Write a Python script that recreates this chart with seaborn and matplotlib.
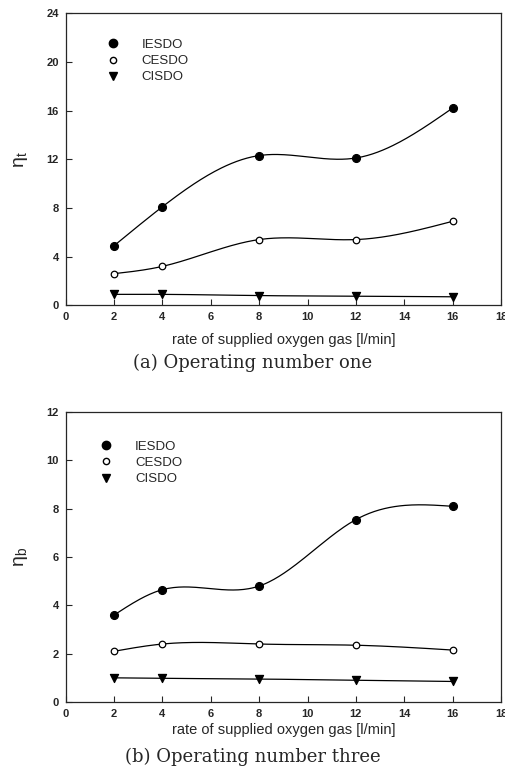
import numpy as np
import pandas as pd
import matplotlib
matplotlib.use("Agg")
import matplotlib.pyplot as plt
import seaborn as sns
from matplotlib.lines import Line2D

# rate of supplied oxygen gas [l/min]
rates = [2, 4, 8, 12, 16]

# (a) operating number one
one_iesdo = [4.9, 8.1, 12.3, 12.1, 16.2]
one_cesdo = [2.6, 3.2, 5.4, 5.4, 6.9]
one_cisdo = [0.9, 0.9, 0.8, 0.75, 0.7]

# (b) operating number three
three_iesdo = [3.6, 4.65, 4.8, 7.55, 8.1]
three_cesdo = [2.1, 2.4, 2.4, 2.35, 2.15]
three_cisdo = [1.0, 0.98, 0.95, 0.9, 0.85]

series_names = ["IESDO", "CESDO", "CISDO"]
x_ticks = list(range(0, 20, 2))


def natural_spline(x, y, n=200):
    """Curva suave (spline cúbica natural) só para desenhar a linha entre os pontos."""
    x = np.asarray(x, float)
    y = np.asarray(y, float)
    k = len(x)
    h = np.diff(x)
    A = np.zeros((k, k))
    b = np.zeros(k)
    A[0, 0] = A[-1, -1] = 1
    for i in range(1, k - 1):
        A[i, i - 1] = h[i - 1]
        A[i, i] = 2 * (h[i - 1] + h[i])
        A[i, i + 1] = h[i]
        b[i] = 6 * ((y[i + 1] - y[i]) / h[i] - (y[i] - y[i - 1]) / h[i - 1])
    M = np.linalg.solve(A, b)
    xs = np.linspace(x[0], x[-1], n)
    idx = np.clip(np.searchsorted(x, xs) - 1, 0, k - 2)
    x0, x1 = x[idx], x[idx + 1]
    hh = x1 - x0
    t0, t1 = x1 - xs, xs - x0
    ys = (M[idx] * t0 ** 3 + M[idx + 1] * t1 ** 3) / (6 * hh) \
        + (y[idx] / hh - M[idx] * hh / 6) * t0 \
        + (y[idx + 1] / hh - M[idx + 1] * hh / 6) * t1
    return xs, ys


sns.set_style("ticks")
plt.rcParams["font.family"] = ["Liberation Sans", "DejaVu Sans"]
plt.rcParams["mathtext.fontset"] = "custom"
plt.rcParams["mathtext.rm"] = "Liberation Sans"

marker_styles = {
    "IESDO": dict(marker="o", s=32, facecolor="black", edgecolor="black"),
    "CESDO": dict(marker="o", s=22, facecolor="white", edgecolor="black"),
    "CISDO": dict(marker="v", s=34, facecolor="black", edgecolor="black"),
}

fig = plt.figure(figsize=(5.06, 7.71), dpi=100)
ax_a = fig.add_axes([0.130, 0.604, 0.860, 0.379])
ax_b = fig.add_axes([0.130, 0.0895, 0.860, 0.376])

panels = [
    (ax_a, [one_iesdo, one_cesdo, one_cisdo], (0, 24), 4, r"η$_\mathregular{t}$",
     "(a) Operating number one", 1 - 363 / 771, (0.065, 0.93), 8),
    (ax_b, [three_iesdo, three_cesdo, three_cisdo], (0, 12), 2, r"η$_\mathregular{b}$",
     "(b) Operating number three", 1 - 757 / 771, (0.05, 0.92), 3),
]

for ax, values, ylim, ystep, ylabel, caption, cap_y, leg_pos, xpad in panels:
    for name, vals in zip(series_names, values):
        xs, ys = natural_spline(rates, vals)
        sns.lineplot(x=xs, y=ys, ax=ax, color="black", linewidth=0.9, sort=False)
        df = pd.DataFrame({"rate": rates, "value": vals})
        sns.scatterplot(data=df, x="rate", y="value", ax=ax, linewidth=0.9,
                        zorder=3, **marker_styles[name])

    ax.set_xlim(0, 18)
    ax.set_ylim(*ylim)
    ax.set_xticks(x_ticks)
    ax.set_yticks(np.arange(ylim[0], ylim[1] + 0.1, ystep))
    ax.tick_params(direction="in", length=4, width=0.8, labelsize=8, pad=5)
    for lab in ax.get_xticklabels() + ax.get_yticklabels():
        lab.set_fontweight("bold")
    for sp in ax.spines.values():
        sp.set_visible(True)
        sp.set_linewidth(0.9)
    ax.set_xlabel("rate of supplied oxygen gas [l/min]", fontsize=10.5, labelpad=xpad)
    ax.set_ylabel(ylabel, fontsize=14, rotation=90, labelpad=12)

    handles = [
        Line2D([], [], linestyle="none", marker="o", markersize=6,
               markerfacecolor="black", markeredgecolor="black"),
        Line2D([], [], linestyle="none", marker="o", markersize=4.5,
               markerfacecolor="white", markeredgecolor="black"),
        Line2D([], [], linestyle="none", marker="v", markersize=6,
               markerfacecolor="black", markeredgecolor="black"),
    ]
    ax.legend(handles, series_names, loc="upper left", bbox_to_anchor=leg_pos,
              frameon=False, fontsize=9.5, handletextpad=1.2, labelspacing=0.3,
              borderaxespad=0)

    fig.text(0.5, cap_y, caption, ha="center", va="center", fontsize=13,
             family=["DejaVu Serif"])

fig.savefig("out.png", dpi=100)
